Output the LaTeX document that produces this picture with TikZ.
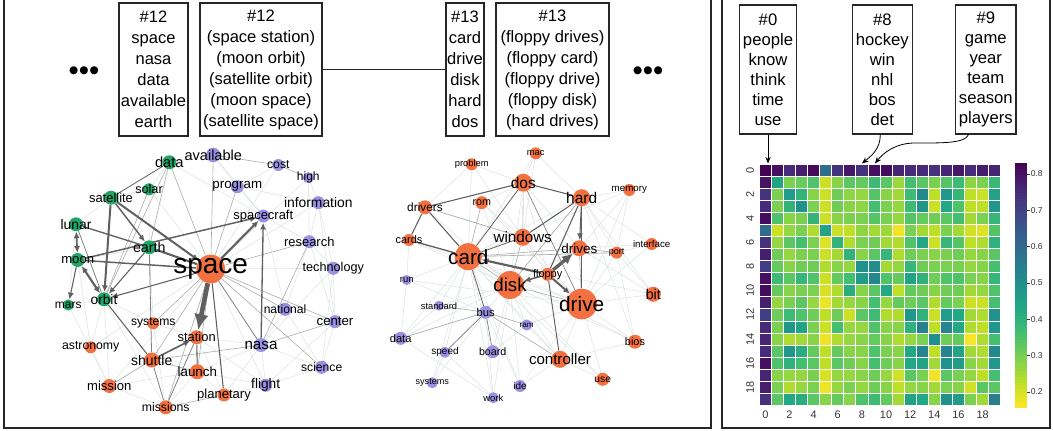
\documentclass[tikz,border=0pt]{standalone}
\usepackage{fontspec}
\setmainfont{Liberation Sans}
\usetikzlibrary{arrows.meta,backgrounds}
\definecolor{cgreen}{RGB}{32,164,104}
\definecolor{cpurple}{RGB}{155,145,226}
\definecolor{corange}{RGB}{243,113,64}
\definecolor{cdark}{RGB}{96,96,96}
\definecolor{cmid}{RGB}{170,172,172}
\definecolor{clight}{RGB}{222,227,227}
\definecolor{vir0}{HTML}{440154}
\definecolor{vir1}{HTML}{482475}
\definecolor{vir2}{HTML}{414487}
\definecolor{vir3}{HTML}{355F8D}
\definecolor{vir4}{HTML}{2A788E}
\definecolor{vir5}{HTML}{21918C}
\definecolor{vir6}{HTML}{22A884}
\definecolor{vir7}{HTML}{44BF70}
\definecolor{vir8}{HTML}{7AD151}
\definecolor{vir9}{HTML}{BDDF26}
\definecolor{vir10}{HTML}{FDE725}
\newcommand\fs[1]{\fontsize{#1}{#1}\selectfont}
\newcommand\vircolor[2]{%
  \pgfmathtruncatemacro\virk{min(floor(#1/10),9)}%
  \pgfmathtruncatemacro\virn{\virk+1}%
  \pgfmathtruncatemacro\virp{100-(#1-10*\virk)*10}%
  \colorlet{#2}{vir\virk!\virp!vir\virn}%
}
\begin{document}
\begin{tikzpicture}[x=0.75pt,y=-0.75pt,
  gnd/.style={circle, fill=cgreen, inner sep=0pt, minimum size=#1},
  pnd/.style={circle, fill=cpurple, inner sep=0pt, minimum size=#1},
  ond/.style={circle, fill=corange, inner sep=0pt, minimum size=#1},
  de/.style={draw=cdark, line width=#1},
  me/.style={draw=cmid, line width=0.45pt},
  le/.style={draw=clight, line width=0.4pt},
  arr/.style={-{Latex[length=5pt,width=4.5pt]}},
  arrb/.style={{Latex[length=5pt,width=4.5pt]}-{Latex[length=5pt,width=4.5pt]}},
  bigarr/.style={-{Latex[length=12pt,width=11pt]}},
  midarr/.style={-{Latex[length=8pt,width=7.5pt]}},
  tbox/.style={draw=black!85, line width=0.9pt, inner sep=0pt, align=center, minimum height=99.75pt, font=\fontsize{12.4}{15.75}\selectfont},
  hbox/.style={draw=black!85, line width=0.9pt, inner sep=0pt, align=center, minimum height=96.75pt, font=\fontsize{12.5}{15}\selectfont},
  frame/.style={draw=black!85, line width=1.1pt},
  dotsnode/.style={inner sep=0pt, font=\fs{22}},
  ticklbl/.style={inner sep=0pt, text=black!80, font=\fs{8.2}},
  cblbl/.style={inner sep=0pt, text=black!80, font=\fs{6.4}},
  harr/.style={draw=black, line width=0.6pt, -{Stealth[length=5pt,width=4pt]}}
]
\useasboundingbox (0,0) rectangle (1053,431);

% panel frames
\draw[frame] (4,-3) -- (4,428) -- (711,428) -- (711,-3);
\draw[frame] (722,-3) -- (722,428) -- (1050,428) -- (1050,-3);

% topic boxes (left panel)
\node[dotsnode] (dl) at (84,73.5) {•••};
\node[tbox, minimum width=51.75pt] (bA) at (153.5,69.5) {\#12\\space\\nasa\\data\\available\\earth};
\node[tbox, minimum width=91.5pt] (bB) at (261,69.5) {\#12\\(space station)\\(moon orbit)\\(satellite orbit)\\(moon space)\\(satellite space)};
\node[tbox, minimum width=28.5pt] (bC) at (465,69.5) {\#13\\card\\drive\\disk\\hard\\dos};
\node[tbox, minimum width=84.75pt] (bD) at (552.5,69.5) {\#13\\(floppy drives)\\(floppy card)\\(floppy drive)\\(floppy disk)\\(hard drives)};
\node[dotsnode] (dr) at (648,73.5) {•••};
\draw[black!85, line width=0.9pt] (bB) -- (bC);

% ---------- left graph nodes ----------
\node[gnd=10.5pt, label={[font=\fs{11}]center:data}] (data) at (169.3,162.3) {};
\node[pnd=10.9pt, label={[font=\fs{10.9}]center:available}] (available) at (213.3,155) {};
\node[pnd=9pt, label={[font=\fs{9.2}]center:cost}] (cost) at (278.3,165) {};
\node[pnd=8.3pt, label={[font=\fs{9}]center:high}] (high) at (308.3,177.7) {};
\node[gnd=9pt, label={[font=\fs{9.5}]center:solar}] (solar) at (149,189.3) {};
\node[gnd=10.5pt, label={[font=\fs{9.7}]center:satellite}] (satellite) at (111,197.7) {};
\node[pnd=9.8pt, label={[font=\fs{10}]center:program}] (program) at (237.3,186.7) {};
\node[pnd=9.8pt, label={[font=\fs{10.4}]center:information}] (information) at (318.3,202.7) {};
\node[pnd=9.8pt, label={[font=\fs{9.7}]center:spacecraft}] (spacecraft) at (263.3,216) {};
\node[gnd=10.5pt, label={[font=\fs{10.4}]center:lunar}] (lunar) at (76,224.3) {};
\node[pnd=9.8pt, label={[font=\fs{9.7}]center:research}] (research) at (309.3,241.7) {};
\node[gnd=10.5pt, label={[font=\fs{10.7}]center:earth}] (earth) at (149.3,247.3) {};
\node[gnd=10.5pt, label={[font=\fs{9.8}]center:moon}] (moon) at (77.7,260) {};
\node[ond=21.5pt, label={[font=\fs{21}]center:space}] (space) at (210.7,269) {};
\node[pnd=9.8pt, label={[font=\fs{9.5}]center:technology}] (technology) at (333.3,268.3) {};
\node[gnd=8.3pt, label={[font=\fs{9}]center:mars}] (mars) at (68.3,305) {};
\node[gnd=10.5pt, label={[font=\fs{10.3}]center:orbit}] (orbit) at (104,299.3) {};
\node[pnd=9.8pt, label={[font=\fs{9.1}]center:national}] (national) at (285,309.3) {};
\node[pnd=9.8pt, label={[font=\fs{9.9}]center:center}] (centre) at (335,321.7) {};
\node[ond=9pt, label={[font=\fs{9.1}]center:systems}] (systems) at (153.3,323.3) {};
\node[ond=10.5pt, label={[font=\fs{9.7}]center:station}] (station) at (196.7,337.3) {};
\node[ond=9pt, label={[font=\fs{9.2}]center:astronomy}] (astronomy) at (90.7,347.3) {};
\node[pnd=10.5pt, label={[font=\fs{11.4}]center:nasa}] (nasa) at (261,345) {};
\node[ond=11.3pt, label={[font=\fs{10.5}]center:shuttle}] (shuttle) at (151.7,360) {};
\node[ond=11.3pt, label={[font=\fs{10}]center:launch}] (launch) at (197.3,371.7) {};
\node[pnd=9.8pt, label={[font=\fs{9.1}]center:science}] (science) at (321.7,367.3) {};
\node[ond=10.5pt, label={[font=\fs{9.8}]center:mission}] (mission) at (109.3,386) {};
\node[pnd=9.8pt, label={[font=\fs{10.3}]center:flight}] (flight) at (265.7,385.3) {};
\node[ond=9.8pt, label={[font=\fs{9.8}]center:planetary}] (planetary) at (224,395) {};
\node[ond=10.5pt, label={[font=\fs{9.2}]center:missions}] (missions) at (165.7,407.3) {};

% ---------- right graph nodes ----------
\node[ond=9pt, label={[font=\fs{7}]center:mac}] (mac) at (535.7,153.3) {};
\node[ond=9pt, label={[font=\fs{7}]center:problem}] (problem) at (471.7,164.3) {};
\node[ond=13.5pt, label={[font=\fs{11.6}]center:dos}] (dos) at (523.3,182.7) {};
\node[ond=9pt, label={[font=\fs{7.3}]center:memory}] (memory) at (629.3,190) {};
\node[ond=12.8pt, label={[font=\fs{11.6}]center:hard}] (hard) at (581.7,197.7) {};
\node[ond=10.5pt, label={[font=\fs{8.9}]center:drivers}] (drivers) at (425,207.3) {};
\node[ond=9.8pt, label={[font=\fs{8}]center:rom}] (rom) at (481.7,202.7) {};
\node[ond=12.8pt, label={[font=\fs{11.4}]center:windows}] (windows) at (522.7,237.3) {};
\node[ond=9pt, label={[font=\fs{8.2}]center:cards}] (cards) at (409,240) {};
\node[ond=12pt, label={[font=\fs{10.1}]center:drives}] (drives) at (579.3,248.3) {};
\node[ond=9pt, label={[font=\fs{7.3}]center:interface}] (interface) at (651.7,244) {};
\node[ond=9pt, label={[font=\fs{6.8}]center:port}] (port) at (616.7,252.7) {};
\node[ond=20.3pt, label={[font=\fs{15.5}]center:card}] (card) at (468.3,256.7) {};
\node[ond=9.8pt, label={[font=\fs{8.2}]center:floppy}] (floppy) at (547.7,274.3) {};
\node[ond=21pt, label={[font=\fs{14}]center:disk}] (disk) at (510,285) {};
\node[pnd=7.5pt, label={[font=\fs{7.1}]center:run}] (run) at (406.7,280) {};
\node[ond=11.3pt, label={[font=\fs{10.7}]center:bit}] (bit) at (653.3,294.3) {};
\node[ond=23pt, label={[font=\fs{15.6}]center:drive}] (drive) at (581.7,304) {};
\node[pnd=7.5pt, label={[font=\fs{7}]center:standard}] (standard) at (439,305.7) {};
\node[pnd=9.8pt, label={[font=\fs{8.4}]center:bus}] (bus) at (485.7,312.3) {};
\node[pnd=8.3pt, label={[font=\fs{6.1}]center:ram}] (ram) at (526.7,325) {};
\node[pnd=9.8pt, label={[font=\fs{8.3}]center:data}] (dataB) at (400.7,338.3) {};
\node[ond=10.5pt, label={[font=\fs{8.2}]center:bios}] (bios) at (635,341.7) {};
\node[pnd=8.3pt, label={[font=\fs{7.5}]center:speed}] (speed) at (445,352.3) {};
\node[pnd=9.8pt, label={[font=\fs{8}]center:board}] (board) at (492.7,351.7) {};
\node[ond=12.8pt, label={[font=\fs{11.3}]center:controller}] (controller) at (560,359.3) {};
\node[ond=9.8pt, label={[font=\fs{7.7}]center:use}] (use) at (602.7,379.3) {};
\node[pnd=8.3pt, label={[font=\fs{6.8}]center:systems}] (systemsB) at (432.3,382.7) {};
\node[pnd=9pt, label={[font=\fs{7.5}]center:ide}] (ide) at (520,386) {};
\node[pnd=8.3pt, label={[font=\fs{7.1}]center:work}] (work) at (493.3,397.7) {};

\begin{pgfonlayer}{background}
% left graph: light edges
\foreach \a/\b in {space/cost,space/high,space/information,space/technology,space/flight,space/astronomy,space/mission,space/solar,program/information,program/spacecraft,high/research,information/research,information/centre,research/national,research/technology,technology/centre,technology/science,national/centre,national/nasa,national/science,centre/science,nasa/science,nasa/flight,nasa/launch,nasa/planetary,flight/launch,flight/station,astronomy/mission,astronomy/moon,mars/mission,orbit/mission,orbit/missions,mission/shuttle,mission/launch,launch/planetary,launch/missions,systems/station,systems/orbit,solar/earth,solar/satellite,data/available,available/program,data/solar,earth/moon,mars/orbit,lunar/mars,satellite/lunar,high/information,cost/program,spacecraft/research,spacecraft/national,station/nasa,systems/missions,astronomy/orbit,planetary/flight,science/flight,centre/flight,data/spacecraft,available/spacecraft,research/centre,technology/nasa,information/technology,earth/systems,station/planetary,mission/missions}
  \draw[le] (\a) -- (\b);
\foreach \a/\b in {space/available,space/data,space/program,space/research,space/national,space/centre,space/science,space/launch,space/missions,space/shuttle,space/systems,available/cost,cost/high,nasa/shuttle,nasa/centre,nasa/research,missions/planetary,shuttle/launch,data/earth,solar/orbit,data/orbit,shuttle/mission}
  \draw[me] (\a) -- (\b);
% left graph: strong edges
\draw[de=0.6pt] (data) -- (satellite);
\draw[de=1.1pt, arr] (satellite) -- (earth);
\draw[de=1.5pt, arr] (satellite) -- (space);
\draw[de=1.5pt, arr] (satellite) -- (orbit);
\draw[de=1pt] (lunar) -- (earth);
\draw[de=1.2pt, arrb] (moon) -- (lunar);
\draw[de=0.8pt, arr] (moon) -- (mars);
\draw[de=1.6pt, arrb] (moon) -- (orbit);
\draw[de=1.1pt, arr] (moon) -- (spacecraft);
\draw[de=1.1pt] (moon) -- (space);
\draw[de=1.6pt] (earth) -- (space);
\draw[de=0.8pt, arr] (earth) -- (orbit);
\draw[de=0.8pt, arr] (space) -- (orbit);
\draw[de=1.6pt, arr] (space) -- (spacecraft);
\draw[de=1pt, arr] (nasa) -- (spacecraft);
\draw[de=3.5pt, bigarr] (space) -- (station);
\draw[de=1.2pt, arr] (shuttle) -- (station);
\draw[de=0.8pt] (station) -- (launch);
\draw[de=0.8pt] (space) -- (planetary);
\draw[de=0.8pt] (orbit) -- (shuttle);
\draw[de=0.6pt, draw=gray] (earth) -- (shuttle);
\draw[de=0.6pt, draw=gray] (shuttle) -- (missions);
\draw[de=0.6pt, draw=gray] (missions) -- (station);
\draw[de=0.6pt, draw=gray] (space) -- (nasa);
\draw[de=0.6pt, draw=gray] (lunar) -- (orbit);

% right graph: light edges
\foreach \a/\b in {mac/dos,mac/hard,mac/windows,mac/card,problem/dos,problem/card,problem/drivers,problem/windows,memory/hard,memory/drive,memory/drives,memory/card,memory/port,interface/drive,interface/port,interface/drives,interface/hard,port/drive,port/card,bit/drive,bit/drives,bit/hard,bit/port,bios/drive,bios/card,bios/hard,bios/port,use/drive,use/card,use/controller,use/disk,controller/card,controller/drive,controller/disk,ide/controller,ide/drive,ide/bus,ide/card,ide/disk,work/bus,work/card,work/speed,work/dataB,work/disk,systemsB/speed,systemsB/bus,systemsB/card,dataB/bus,dataB/card,dataB/run,dataB/standard,dataB/disk,speed/card,speed/disk,board/card,board/ram,board/disk,ram/card,ram/disk,ram/drive,standard/card,standard/disk,run/card,run/bus,run/drive,run/cards,rom/disk,rom/windows,rom/dos,rom/drive,drivers/windows,drivers/disk,cards/disk,cards/drive,windows/drive,windows/drives,windows/floppy,disk/drives,disk/hard,card/hard,dos/drives,dos/floppy,dos/disk,card/drive,disk/bios,card/bit,drive/ram,hard/port,controller/bios,controller/ram}
  \draw[le] (\a) -- (\b);
\foreach \a/\b in {card/drives,dos/windows,hard/disk,drives/port,card/port,bus/ram,bus/controller,rom/card,drive/drives,disk/drive,bus/standard,bus/dataB,drivers/windows,card/disk,windows/disk}
  \draw[me] (\a) -- (\b);
% right graph: strong edges
\draw[de=0.8pt] (drivers) -- (dos);
\draw[de=0.8pt] (dos) -- (hard);
\draw[de=0.8pt] (drivers) -- (cards);
\draw[de=0.8pt] (drivers) -- (card);
\draw[de=1pt] (cards) -- (card);
\draw[de=0.6pt] (dos) -- (card);
\draw[de=0.8pt] (hard) -- (windows);
\draw[de=0.8pt, arr] (hard) -- (drives);
\draw[de=0.8pt] (hard) -- (drive);
\draw[de=0.8pt] (hard) -- (floppy);
\draw[de=2.5pt, midarr] (floppy) -- (drives);
\draw[de=1.6pt, arr] (floppy) -- (card);
\draw[de=1.2pt, arr] (floppy) -- (disk);
\draw[de=1.5pt, arr] (floppy) -- (drive);
\draw[de=0.7pt] (floppy) -- (controller);
\draw[de=0.6pt] (card) -- (bus);
\draw[de=0.5pt, draw=gray] (bus) -- (speed);
\draw[de=0.5pt, draw=gray] (bus) -- (board);
\draw[de=0.5pt, draw=gray] (dos) -- (drive);
\draw[de=0.6pt] (windows) -- (card);
\end{pgfonlayer}

% ---------- heatmap ----------
\foreach \rowvals [count=\r from 0] in {
{0,4,12,8,2,35,15,6,14,4,3,10,12,12,14,10,6,12,8,10},
{5,58,80,77,72,92,82,74,76,68,74,85,70,74,80,73,68,83,80,67},
{15,80,55,65,82,92,78,83,84,73,82,86,68,47,90,52,66,90,92,57},
{12,80,65,50,80,92,78,82,83,70,80,84,68,52,92,60,72,90,90,52},
{3,72,82,80,65,92,82,80,80,73,80,84,73,76,78,74,70,86,80,66},
{35,92,84,80,88,58,92,90,83,86,85,98,80,86,90,80,86,93,95,73},
{14,84,74,70,80,95,65,88,80,78,86,88,72,60,92,66,73,90,88,64},
{8,78,84,80,80,92,86,65,82,74,66,88,78,80,82,80,78,84,82,74},
{18,76,82,78,78,88,82,84,50,48,86,84,66,78,80,80,80,84,82,70},
{4,68,74,66,72,92,76,70,55,46,72,76,58,64,78,72,72,80,82,66},
{3,76,82,80,80,94,88,62,82,74,60,90,76,78,82,78,78,86,84,72},
{8,84,80,74,84,97,86,84,82,70,84,76,78,74,88,76,80,92,92,70},
{18,78,68,72,78,90,78,92,74,68,88,88,52,64,92,55,60,86,88,50},
{12,80,52,58,80,92,70,84,84,72,82,82,64,43,90,45,60,88,90,52},
{10,82,88,86,82,98,88,84,82,76,82,88,84,80,50,78,76,99,88,70},
{12,74,52,62,76,90,76,82,82,72,80,82,60,45,90,45,58,86,88,47},
{4,72,64,70,74,90,74,78,82,70,78,82,60,58,86,50,55,82,86,52},
{10,82,84,84,80,94,84,84,82,78,84,93,74,80,98,74,80,84,90,70},
{8,80,88,84,80,98,84,80,84,78,82,90,84,82,86,80,82,93,74,74},
{14,74,60,62,74,82,76,82,72,68,76,86,58,60,82,50,55,80,86,42}}{
  \foreach \v [count=\c from 0] in \rowvals {
    \vircolor{\v}{cellc}
    \filldraw[fill=cellc, draw=white, line width=0.6pt] (759.3+12.07*\c,164+12.07*\r) rectangle ++(12.07,12.07);
  }
}
\foreach \c in {0,2,...,18}
  \node[ticklbl] (xt\c) at (759.3+12.07*\c+6.035,415) {\c};
\foreach \r in {0,2,...,18}
  \node[ticklbl, rotate=90] (yt\r) at (750,164+12.07*\r+6.035) {\r};

% colorbar
\foreach \i in {0,...,79}{
  \pgfmathsetmacro\vv{(\i+0.5)*1.25}
  \vircolor{\vv}{barc}
  \fill[barc] (1015.3,162.7+3.0575*\i) rectangle (1027,162.7+3.0575*\i+3.4);
}
\foreach \t/\yy in {0.2/392,0.3/355.7,0.4/319.3,0.5/283,0.6/246.7,0.7/210.3,0.8/174}{
  \draw[black!80, line width=0.4pt] (1027,\yy) -- (1029.5,\yy);
  \node[cblbl, anchor=west] (cb\t) at (1030.5,\yy) {\t};
}

% heatmap annotation boxes
\node[hbox, minimum width=43pt] (b0) at (768,69.5) {\#0\\people\\know\\think\\time\\use};
\node[hbox, minimum width=45pt] (b8) at (882.3,69.5) {\#8\\hockey\\win\\nhl\\bos\\det};
\node[hbox, minimum width=45.2pt] (b9) at (985.8,69.5) {\#9\\game\\year\\team\\season\\players};
\coordinate (c0) at (768,163.5);
\coordinate (c8) at (861.9,163.5);
\coordinate (c9) at (874.9,163.5);
\draw[harr] (b0.south) -- (c0);
\draw[harr] ([xshift=-1.5pt]b8.south) .. controls +(0,14) and +(10,-8) .. (c8);
\draw[harr] ([xshift=-13pt]b9.south) .. controls +(-3,9) and +(25,0) .. (915,143) .. controls +(-20,0) and +(8,-10) .. (c9);
\end{tikzpicture}
\end{document}
